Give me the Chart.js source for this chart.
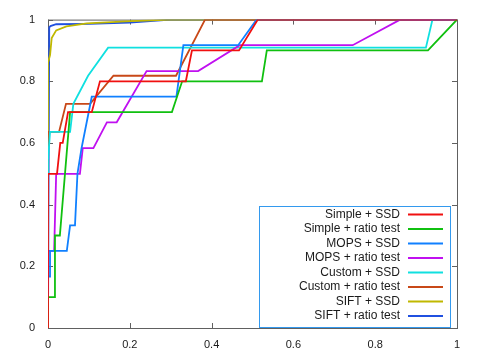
<!DOCTYPE html>
<html>
<head>
<meta charset="utf-8">
<script src="https://cdn.jsdelivr.net/npm/chart.js@4"></script>
<style>
  html, body { margin: 0; padding: 0; background: #fff; }
  #wrap { width: 480px; height: 360px; }
</style>
</head>
<body>
<div id="wrap"><canvas id="my-chart" width="480" height="360"></canvas></div>
<script>
// axis ticks
const xTicks = [0, 0.2, 0.4, 0.6, 0.8, 1];
const yTicks = [0, 0.2, 0.4, 0.6, 0.8, 1];

const seriesNames = [
  "Simple + SSD",
  "Simple + ratio test",
  "MOPS + SSD",
  "MOPS + ratio test",
  "Custom + SSD",
  "Custom + ratio test",
  "SIFT + SSD",
  "SIFT + ratio test",
];
const seriesColors = ["#f01010", "#10c010", "#1080ff", "#c010f0", "#10e0e0", "#c84818", "#c0b800", "#2050e0"];

// x = false positive rate, y = true positive rate
const simpleSsdX = [0, 0, 0.022, 0.030, 0.036, 0.049, 0.107, 0.127, 0.337, 0.352, 0.467, 0.513, 1];
const simpleSsdY = [0, 0.5, 0.5, 0.6, 0.6, 0.7, 0.7, 0.8, 0.8, 0.9, 0.9, 1, 1];

const simpleRatioX = [0, 0, 0.015, 0.017, 0.029, 0.054, 0.303, 0.328, 0.523, 0.535, 0.929, 1];
const simpleRatioY = [0, 0.1, 0.1, 0.3, 0.3, 0.7, 0.7, 0.8, 0.8, 0.9, 0.9, 1];

const mopsSsdX = [0, 0, 0.005, 0.005, 0.046, 0.054, 0.066, 0.072, 0.082, 0.107, 0.314, 0.331, 0.465, 0.51, 1];
const mopsSsdY = [0, 0.167, 0.167, 0.25, 0.25, 0.333, 0.333, 0.5, 0.583, 0.75, 0.75, 0.917, 0.917, 1, 1];

const mopsRatioX = [0, 0, 0.015, 0.02, 0.078, 0.085, 0.111, 0.144, 0.168, 0.241, 0.367, 0.469, 0.745, 0.861, 1];
const mopsRatioY = [0, 0.25, 0.25, 0.5, 0.5, 0.583, 0.583, 0.667, 0.667, 0.833, 0.833, 0.917, 0.917, 1, 1];

const customSsdX = [0, 0, 0.005, 0.054, 0.062, 0.098, 0.147, 0.924, 0.94, 1];
const customSsdY = [0, 0.545, 0.636, 0.636, 0.727, 0.818, 0.909, 0.909, 1, 1];

const customRatioX = [0, 0, 0.027, 0.044, 0.103, 0.16, 0.313, 0.384, 1];
const customRatioY = [0, 0.636, 0.636, 0.727, 0.727, 0.818, 0.818, 1, 1];

const siftSsdX = [0, 0, 0.005, 0.009, 0.02, 0.045, 0.095, 0.19, 0.3, 1];
const siftSsdY = [0, 0.86, 0.885, 0.94, 0.965, 0.978, 0.988, 0.994, 1, 1];

const siftRatioX = [0, 0.003, 0.006, 0.02, 0.1, 0.2, 0.3, 1];
const siftRatioY = [0, 0.975, 0.979, 0.985, 0.986, 0.99, 1, 1];

const seriesX = [simpleSsdX, simpleRatioX, mopsSsdX, mopsRatioX, customSsdX, customRatioX, siftSsdX, siftRatioX];
const seriesY = [simpleSsdY, simpleRatioY, mopsSsdY, mopsRatioY, customSsdY, customRatioY, siftSsdY, siftRatioY];

function toPoints(xs, ys) {
  return xs.map((x, i) => ({ x: x, y: ys[i] }));
}

// gnuplot-like frame with inward ticks, drawn under the lines
const framePlugin = {
  id: "frame",
  beforeDatasetsDraw(chart) {
    const ctx = chart.ctx;
    const a = chart.chartArea;
    const xs = chart.scales.x;
    const ys = chart.scales.y;
    ctx.save();
    ctx.strokeStyle = "#606060";
    ctx.lineWidth = 1;
    ctx.strokeRect(a.left + 0.5, a.top + 0.5, a.right - a.left, a.bottom - a.top);
    ctx.beginPath();
    xTicks.forEach((v) => {
      const px = Math.round(xs.getPixelForValue(v)) + 0.5;
      ctx.moveTo(px, a.bottom); ctx.lineTo(px, a.bottom - 5);
      ctx.moveTo(px, a.top); ctx.lineTo(px, a.top + 5);
    });
    yTicks.forEach((v) => {
      const py = Math.round(ys.getPixelForValue(v)) + 0.5;
      ctx.moveTo(a.left, py); ctx.lineTo(a.left + 5, py);
      ctx.moveTo(a.right, py); ctx.lineTo(a.right - 5, py);
    });
    ctx.stroke();
    ctx.restore();
  },
  afterDraw(chart) {
    // legend box in the lower right, text left of the line sample
    const ctx = chart.ctx;
    const a = chart.chartArea;
    const boxRight = a.right - 7;
    const boxLeft = boxRight - 191;
    const boxBottom = a.bottom - 1;
    const boxTop = boxBottom - 121;
    ctx.save();
    ctx.fillStyle = "#ffffff";
    ctx.fillRect(boxLeft, boxTop, boxRight - boxLeft, boxBottom - boxTop);
    ctx.strokeStyle = "#3399ee";
    ctx.lineWidth = 1;
    ctx.strokeRect(boxLeft + 0.5, boxTop + 0.5, boxRight - boxLeft, boxBottom - boxTop);
    ctx.font = "12px 'Liberation Sans', Arial, sans-serif";
    ctx.textAlign = "right";
    ctx.textBaseline = "middle";
    chart.data.datasets.forEach((ds, i) => {
      const y = boxTop + 8.5 + i * 14.5;
      ctx.fillStyle = "#1a1a1a";
      ctx.fillText(ds.label, boxRight - 50, y);
      ctx.strokeStyle = ds.borderColor;
      ctx.lineWidth = 1.8;
      ctx.beginPath();
      ctx.moveTo(boxRight - 42, y);
      ctx.lineTo(boxRight - 7, y);
      ctx.stroke();
    });
    ctx.restore();
  },
};

const ctx = document.getElementById("my-chart").getContext("2d");
const chart = new Chart(ctx, {
  type: "scatter",
  data: {
    datasets: seriesNames.map((name, i) => ({
      label: name,
      data: toPoints(seriesX[i], seriesY[i]),
      showLine: true,
      borderColor: seriesColors[i],
      backgroundColor: seriesColors[i],
      borderWidth: 1.8,
      pointRadius: 0,
      tension: 0,
    })),
  },
  options: {
    responsive: false,
    animation: false,
    layout: { padding: { top: 15, right: 23, left: 0, bottom: 0 } },
    plugins: {
      legend: { display: false },
      tooltip: { enabled: false },
    },
    scales: {
      x: {
        type: "linear",
        min: 0,
        max: 1,
        afterFit: (scale) => { scale.height = 32; },
        afterBuildTicks: (scale) => { scale.ticks = xTicks.map((v) => ({ value: v })); },
        grid: { display: false, drawTicks: false },
        border: { display: false },
        ticks: {
          padding: 10,
          color: "#1a1a1a",
          font: { family: "'Liberation Sans', Arial, sans-serif", size: 11 },
          maxRotation: 0,
          callback: (v) => String(+v.toFixed(1)),
        },
      },
      y: {
        type: "linear",
        min: 0,
        max: 1,
        afterFit: (scale) => { scale.width = 48; },
        afterBuildTicks: (scale) => { scale.ticks = yTicks.map((v) => ({ value: v })); },
        grid: { display: false, drawTicks: false },
        border: { display: false },
        ticks: {
          padding: 13,
          color: "#1a1a1a",
          font: { family: "'Liberation Sans', Arial, sans-serif", size: 11 },
          callback: (v) => String(+v.toFixed(1)),
        },
      },
    },
  },
  plugins: [framePlugin],
});
</script>
</body>
</html>
